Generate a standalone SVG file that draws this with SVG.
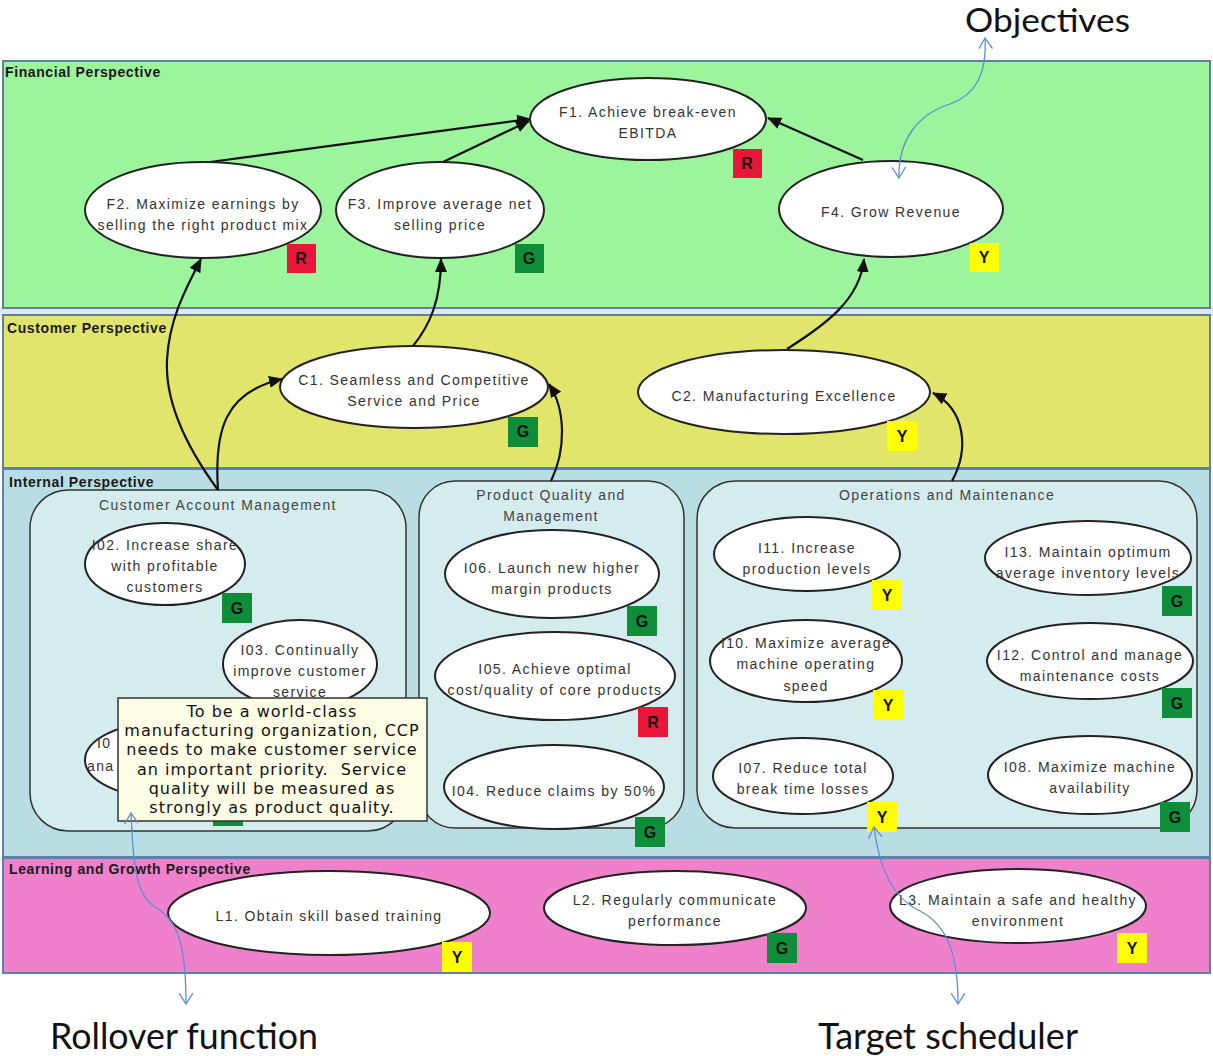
<svg xmlns="http://www.w3.org/2000/svg" width="1213" height="1056" viewBox="0 0 1213 1056">
<defs>
<style>
.band{stroke:#5f7fa6;stroke-width:2}
.blabel{font-family:"Liberation Sans",Arial,sans-serif;font-size:14px;font-weight:bold;fill:#1a1a1a;letter-spacing:0.6px}
.sub{fill:#d5ecef;stroke:#333;stroke-width:1.5}
.stitle{font-family:"Liberation Sans",Arial,sans-serif;font-size:14px;fill:#444;letter-spacing:1.4px;text-anchor:middle}
.node ellipse{fill:#fff;stroke:#222;stroke-width:2}
.node text{font-family:"Liberation Sans",Arial,sans-serif;font-size:14px;fill:#333;letter-spacing:1.4px;text-anchor:middle}
.node text.b{font-family:"Liberation Sans",Arial,sans-serif;font-size:16px;font-weight:bold;fill:#111;letter-spacing:0;text-anchor:middle}
.R{fill:#e8173a}
.G{fill:#0f8e3a}
.Y{fill:#ffff00}
.conn path{fill:none;stroke:#111;stroke-width:2.2}
.note path{fill:none;stroke:#5b8fd2;stroke-width:1.3}
.big{font-family:Lato,"Open Sans",sans-serif;font-size:36px;fill:#111}
.big2{font-family:Lato,"Open Sans",sans-serif;font-size:32px;fill:#111}
.pop{font-family:"DejaVu Sans",Verdana,sans-serif;font-size:16px;fill:#111;letter-spacing:1px;text-anchor:middle;white-space:pre}
</style>
<marker id="ah" viewBox="0 0 14 12" refX="13" refY="6" markerWidth="14" markerHeight="12" markerUnits="userSpaceOnUse" orient="auto">
<path d="M0,0 L14,6 L0,12 z" fill="#111"/>
</marker>
<marker id="chev" viewBox="0 0 12 14" refX="11" refY="7" markerWidth="12" markerHeight="14" markerUnits="userSpaceOnUse" orient="auto-start-reverse">
<path d="M0,0 L11,7 L0,14" fill="none" stroke="#5b8fd2" stroke-width="1.3"/>
</marker>
</defs>
<rect x="0" y="0" width="1213" height="1056" fill="#fff"/>

<g id="bands">
<rect x="0" y="307" width="1213" height="9" fill="#dfe9f3"/>
<rect class="band" x="3" y="61" width="1207" height="247" fill="#9cf49d"/>
<rect class="band" x="3" y="315" width="1207" height="153" fill="#e2e56b"/>
<rect class="band" x="3" y="469" width="1207" height="388" fill="#b8dde3"/>
<rect class="band" x="3" y="858" width="1207" height="115" fill="#ef80cc"/>
<text class="blabel" x="5" y="77">Financial Perspective</text>
<text class="blabel" x="7" y="333">Customer Perspective</text>
<text class="blabel" x="9" y="487">Internal Perspective</text>
<text class="blabel" x="9" y="874">Learning and Growth Perspective</text>
</g>

<g id="groups">
<g id="cam"><rect class="sub" x="30" y="490" width="376" height="341" rx="38"/><text class="stitle" x="218" y="510">Customer Account Management</text></g>
<g id="pqm"><rect class="sub" x="419" y="481" width="265" height="347" rx="36"/><text class="stitle" x="551" y="500">Product Quality and</text><text class="stitle" x="551" y="521">Management</text></g>
<g id="om"><rect class="sub" x="697" y="481" width="500" height="347" rx="38"/><text class="stitle" x="947" y="500">Operations and Maintenance</text></g>
</g>

<g id="connectors" class="conn">
<path d="M210,162 L530,119" marker-end="url(#ah)"/>
<path d="M443,162 L529,121" marker-end="url(#ah)"/>
<path d="M863,160 L768,118" marker-end="url(#ah)"/>
<path d="M218,490 C185,445 165,400 167,360 C169,320 185,290 201,259" marker-end="url(#ah)"/>
<path d="M218,490 C214,430 225,392 282,379" marker-end="url(#ah)"/>
<path d="M413,346 C430,325 441,300 441,259" marker-end="url(#ah)"/>
<path d="M551,481 C566,450 566,410 549,384" marker-end="url(#ah)"/>
<path d="M787,349 C825,325 860,300 864,259" marker-end="url(#ah)"/>
<path d="M952,481 C969,450 966,410 933,393" marker-end="url(#ah)"/>
</g>

<g id="F1" class="node"><ellipse cx="648" cy="119" rx="118" ry="41"/><text x="648" y="117">F1. Achieve break-even</text><text x="648" y="138">EBITDA</text><rect class="R" x="733" y="149" width="29" height="29"/><text class="b" x="747" y="169">R</text></g>
<g id="F2" class="node"><ellipse cx="203" cy="210" rx="118" ry="48"/><text x="203" y="209">F2. Maximize earnings by</text><text x="203" y="230">selling the right product mix</text><rect class="R" x="287" y="244" width="29" height="29"/><text class="b" x="301" y="264">R</text></g>
<g id="F3" class="node"><ellipse cx="440" cy="210" rx="104" ry="48"/><text x="440" y="209">F3. Improve average net</text><text x="440" y="230">selling price</text><rect class="G" x="515" y="244" width="29" height="29"/><text class="b" x="529" y="264">G</text></g>
<g id="F4" class="node"><ellipse cx="891" cy="209" rx="112" ry="48"/><text x="891" y="217">F4. Grow Revenue</text><rect class="Y" x="970" y="243" width="29" height="29"/><text class="b" x="984" y="263">Y</text></g>

<g id="C1" class="node"><ellipse cx="414" cy="387" rx="134" ry="41"/><text x="414" y="385">C1. Seamless and Competitive</text><text x="414" y="406">Service and Price</text><rect class="G" x="508" y="417" width="30" height="30"/><text class="b" x="523" y="437">G</text></g>
<g id="C2" class="node"><ellipse cx="784" cy="392" rx="146" ry="42"/><text x="784" y="401">C2. Manufacturing Excellence</text><rect class="Y" x="887" y="421" width="30" height="30"/><text class="b" x="902" y="442">Y</text></g>

<g id="I02" class="node"><ellipse cx="165" cy="564" rx="80" ry="41"/><text x="165" y="550">I02. Increase share</text><text x="165" y="571">with profitable</text><text x="165" y="592">customers</text><rect class="G" x="222" y="593" width="30" height="30"/><text class="b" x="237" y="614">G</text></g>
<g id="I03" class="node"><ellipse cx="300" cy="664" rx="77" ry="44"/><text x="300" y="655">I03. Continually</text><text x="300" y="676">improve customer</text><text x="300" y="697">service</text></g>
<g id="I01" class="node"><ellipse cx="165" cy="760" rx="80" ry="38"/><text x="97" y="748" style="text-anchor:start">I0</text><text x="87" y="771" style="text-anchor:start">ana</text><rect class="G" x="213" y="796" width="30" height="30"/></g>

<g id="I06" class="node"><ellipse cx="552" cy="574" rx="107" ry="44"/><text x="552" y="573">I06. Launch new higher</text><text x="552" y="594">margin products</text><rect class="G" x="627" y="606" width="30" height="30"/><text class="b" x="642" y="627">G</text></g>
<g id="I05" class="node"><ellipse cx="555" cy="676" rx="120" ry="44"/><text x="555" y="674">I05. Achieve optimal</text><text x="555" y="695">cost/quality of core products</text><rect class="R" x="638" y="707" width="30" height="30"/><text class="b" x="653" y="728">R</text></g>
<g id="I04" class="node"><ellipse cx="554" cy="787" rx="110" ry="42"/><text x="554" y="796">I04. Reduce claims by 50%</text><rect class="G" x="635" y="817" width="30" height="30"/><text class="b" x="650" y="838">G</text></g>

<g id="I11" class="node"><ellipse cx="807" cy="554" rx="93" ry="37"/><text x="807" y="553">I11. Increase</text><text x="807" y="574">production levels</text><rect class="Y" x="872" y="580" width="30" height="30"/><text class="b" x="887" y="601">Y</text></g>
<g id="I13" class="node"><ellipse cx="1088" cy="558" rx="103" ry="37"/><text x="1088" y="557">I13. Maintain optimum</text><text x="1088" y="578">average inventory levels</text><rect class="G" x="1162" y="586" width="30" height="30"/><text class="b" x="1177" y="607">G</text></g>
<g id="I10" class="node"><ellipse cx="806" cy="661" rx="96" ry="41"/><text x="806" y="648">I10. Maximize average</text><text x="806" y="669">machine operating</text><text x="806" y="691">speed</text><rect class="Y" x="873" y="690" width="30" height="30"/><text class="b" x="888" y="711">Y</text></g>
<g id="I12" class="node"><ellipse cx="1090" cy="661" rx="103" ry="38"/><text x="1090" y="660">I12. Control and manage</text><text x="1090" y="681">maintenance costs</text><rect class="G" x="1162" y="688" width="30" height="30"/><text class="b" x="1177" y="709">G</text></g>
<g id="I07" class="node"><ellipse cx="803" cy="776" rx="90" ry="38"/><text x="803" y="773">I07. Reduce total</text><text x="803" y="794">break time losses</text><rect class="Y" x="867" y="802" width="30" height="30"/><text class="b" x="882" y="823">Y</text></g>
<g id="I08" class="node"><ellipse cx="1090" cy="775" rx="102" ry="39"/><text x="1090" y="772">I08. Maximize machine</text><text x="1090" y="793">availability</text><rect class="G" x="1160" y="802" width="30" height="30"/><text class="b" x="1175" y="823">G</text></g>

<g id="L1" class="node"><ellipse cx="329" cy="913" rx="161" ry="42"/><text x="329" y="921">L1. Obtain skill based training</text><rect class="Y" x="442" y="942" width="30" height="30"/><text class="b" x="457" y="963">Y</text></g>
<g id="L2" class="node"><ellipse cx="675" cy="908" rx="131" ry="37"/><text x="675" y="905">L2. Regularly communicate</text><text x="675" y="926">performance</text><rect class="G" x="767" y="933" width="30" height="30"/><text class="b" x="782" y="954">G</text></g>
<g id="L3" class="node"><ellipse cx="1018" cy="906" rx="128" ry="37"/><text x="1018" y="905">L3. Maintain a safe and healthy</text><text x="1018" y="926">environment</text><rect class="Y" x="1117" y="933" width="30" height="30"/><text class="b" x="1132" y="954">Y</text></g>

<g id="popup">
<rect x="118" y="698" width="309" height="123" fill="#fdfde6" stroke="#333" stroke-width="1.5"/>
<text class="pop" x="272" y="717">To be a world-class</text>
<text class="pop" x="272" y="736">manufacturing organization, CCP</text>
<text class="pop" x="272" y="755">needs to make customer service</text>
<text class="pop" x="272" y="775">an important priority.  Service</text>
<text class="pop" x="272" y="794">quality will be measured as</text>
<text class="pop" x="272" y="813">strongly as product quality.</text>
</g>

<g id="annotations" class="note">
<path d="M985,38 C987,75 975,95 950,104 C918,114 898,140 899,178" marker-start="url(#chev)" marker-end="url(#chev)"/>
<path d="M131,813 C133,860 135,895 155,907 C178,920 186,945 186,1004" marker-start="url(#chev)" marker-end="url(#chev)"/>
<path d="M874,827 C878,860 888,895 918,910 C950,925 958,960 958,1004" marker-start="url(#chev)" marker-end="url(#chev)"/>
</g>

<g id="labels">
<text class="big2" x="965" y="32" textLength="165" lengthAdjust="spacingAndGlyphs">Objectives</text>
<text class="big" x="50" y="1049" textLength="268" lengthAdjust="spacingAndGlyphs">Rollover function</text>
<text class="big" x="818" y="1049" textLength="260" lengthAdjust="spacingAndGlyphs">Target scheduler</text>
</g>
</svg>
